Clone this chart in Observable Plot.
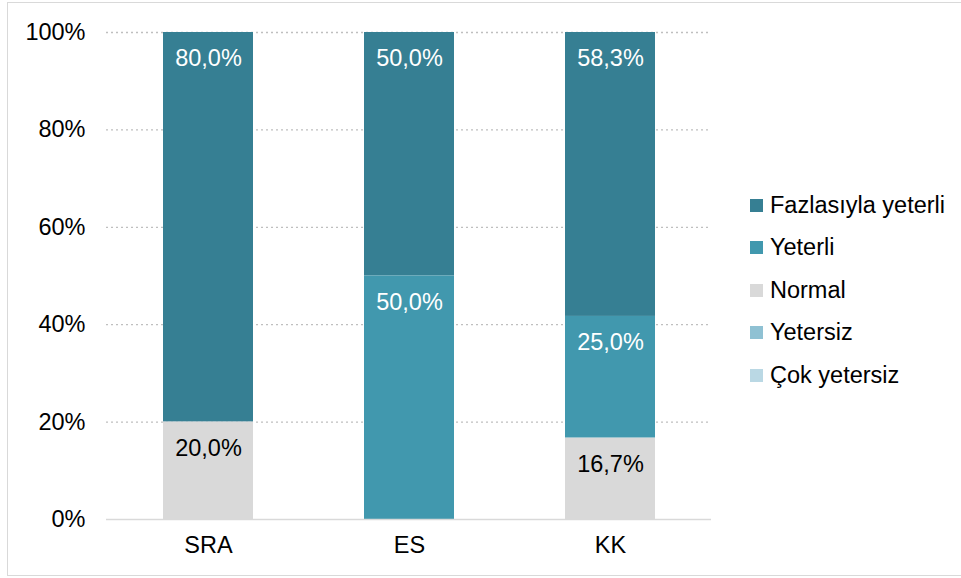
<!DOCTYPE html>
<html>
<head>
<meta charset="utf-8">
<script src="https://cdn.jsdelivr.net/npm/d3@7"></script>
<script src="https://cdn.jsdelivr.net/npm/@observablehq/plot@0.6"></script>
<style>
  html, body { margin: 0; padding: 0; background: #fff; }
  #wrap { position: relative; width: 961px; height: 578px; overflow: hidden; font-family: "Liberation Sans", Arial, sans-serif; }
  #frame { position: absolute; left: 7px; top: 2px; width: 970px; height: 574px; border: 1px solid #d9d9d9; box-sizing: border-box; pointer-events: none; }
  #legend { position: absolute; left: 750px; top: 184px; font-size: 23.5px; color: #000; }
  #legend .item { height: 42.5px; display: flex; align-items: center; }
  #legend .sw { width: 13px; height: 13px; margin-right: 7px; }
</style>
</head>
<body>
<div id="wrap"><div id="chart"></div><div id="frame"></div><div id="legend"></div></div>
<script>
const categories = ["SRA", "ES", "KK"];
const seriesNames = ["Fazlasıyla yeterli", "Yeterli", "Normal", "Yetersiz", "Çok yetersiz"];
const seriesColors = ["#367f93", "#4198ae", "#d9d9d9", "#8fc1d3", "#bad8e4"];
const fazlasiylaYeterli = [80.0, 50.0, 58.3];
const yeterli = [0, 50.0, 25.0];
const normal = [20.0, 0, 16.7];
const yetersiz = [0, 0, 0];
const cokYetersiz = [0, 0, 0];
const yTicks = [0, 20, 40, 60, 80, 100];

const seriesValues = [fazlasiylaYeterli, yeterli, normal, yetersiz, cokYetersiz];
const data = [];
seriesNames.forEach((s, i) => categories.forEach((c, j) => data.push({cat: c, series: s, value: seriesValues[i][j]})));
const stackOrder = seriesNames.slice().reverse();
const fmt = v => v.toFixed(1).replace(".", ",") + "%";

const chart = Plot.plot({
  width: 961,
  height: 578,
  marginLeft: 106,
  marginRight: 250,
  marginTop: 32,
  marginBottom: 59,
  style: {fontFamily: "Liberation Sans, Arial, sans-serif", fontSize: "23.5px", color: "#000", background: "transparent"},
  x: {domain: categories, paddingInner: 0.553, paddingOuter: 0.2765, label: null, tickSize: 0, tickPadding: 17},
  y: {domain: [0, 100], ticks: yTicks, tickFormat: d => d + "%", label: null, tickSize: 0, tickPadding: 21},
  color: {domain: seriesNames, range: seriesColors},
  marks: [
    Plot.ruleY(yTicks.filter(d => d > 0), {stroke: "#bfbfbf", strokeDasharray: "2,3", strokeWidth: 1.3}),
    Plot.barY(data, Plot.stackY({x: "cat", y: "value", fill: "series", order: stackOrder, inset: 0})),
    Plot.ruleY([0], {stroke: "#d9d9d9", strokeWidth: 1.5}),
    Plot.text(data.filter(d => d.value > 0), Plot.stackY2({x: "cat", y: "value", z: "series", order: stackOrder,
      text: d => fmt(d.value), dy: 26, fontSize: 23.5,
      fill: d => d.series === "Normal" ? "#000" : "#fff"}))
  ]
});
document.getElementById("chart").appendChild(chart);

const legend = document.getElementById("legend");
seriesNames.forEach((s, i) => {
  const item = document.createElement("div");
  item.className = "item";
  item.innerHTML = `<span class="sw" style="background:${seriesColors[i]}"></span><span>${s}</span>`;
  legend.appendChild(item);
});
</script>
</body>
</html>
